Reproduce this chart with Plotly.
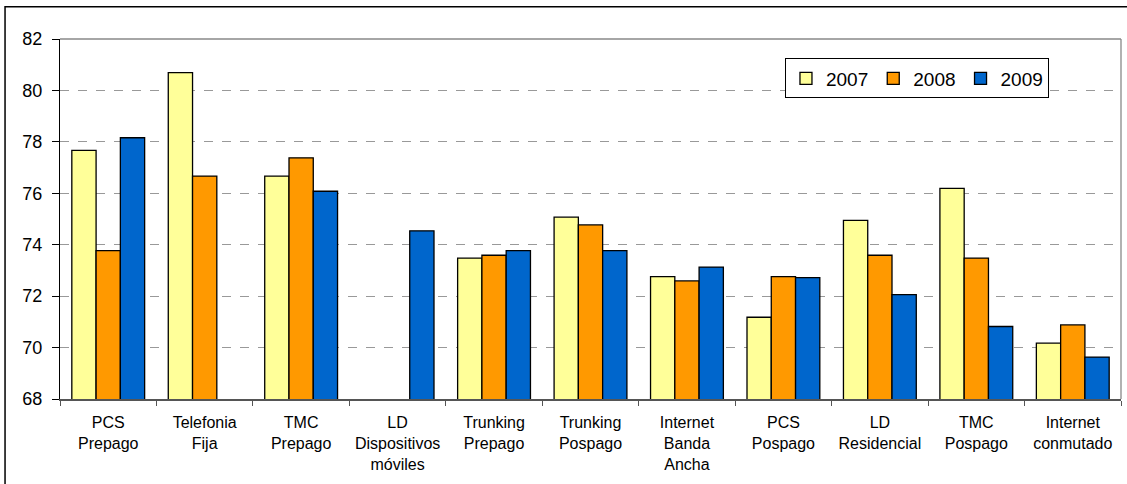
import plotly.graph_objects as go

categories = ["PCS<br>Prepago", "Telefonia<br>Fija", "TMC<br>Prepago", "LD<br>Dispositivos<br>móviles",
              "Trunking<br>Prepago", "Trunking<br>Pospago", "Internet<br>Banda<br>Ancha", "PCS<br>Pospago",
              "LD<br>Residencial", "TMC<br>Pospago", "Internet<br>conmutado"]
v2007 = [77.67, 80.69, 76.67, None, 73.48, 75.07, 72.76, 71.18, 74.95, 76.19, 70.17]
v2008 = [73.77, 76.67, 77.38, None, 73.59, 74.77, 72.59, 72.76, 73.59, 73.48, 70.88]
v2009 = [78.16, None, 76.08, 74.54, 73.77, 73.77, 73.13, 72.72, 72.06, 70.82, 69.63]
years = ["2007", "2008", "2009"]
colors = ["#FFFF99", "#FF9900", "#0066CC"]

fig = go.Figure()
for name, vals, col in zip(years, [v2007, v2008, v2009], colors):
    fig.add_trace(go.Bar(x=categories, y=vals, name=name,
                         marker=dict(color=col, line=dict(color="#000000", width=1.3))))

fig.update_layout(
    width=1127, height=484,
    margin=dict(l=60, r=6, t=39, b=85),
    paper_bgcolor="white", plot_bgcolor="white",
    barmode="group", bargap=0.245, bargroupgap=0,
    font=dict(family="Liberation Sans, Arial, sans-serif", color="#000000"),
    showlegend=True,
    legend=dict(orientation="h", x=0.8077, xanchor="center", y=0.946, yanchor="top",
                bordercolor="#000000", borderwidth=1, bgcolor="white",
                font=dict(size=19, family="Liberation Sans, Arial, sans-serif"),
                itemwidth=30, traceorder="normal", tracegroupgap=0),
    xaxis=dict(showline=True, linecolor="#555555", linewidth=1.5, ticks="outside",
               tickson="boundaries", ticklen=5, tickcolor="#555555",
               tickfont=dict(size=16), ticklabelstandoff=8, mirror=False, showgrid=False),
    yaxis=dict(range=[68, 82], dtick=2, showline=True, linecolor="#000000", linewidth=1.3,
               ticks="outside", ticklen=7, tickcolor="#000000",
               tickfont=dict(size=18), ticklabelstandoff=6, showgrid=True, gridcolor="#999999",
               griddash="dash", gridwidth=1, zeroline=False),
    shapes=[
        dict(type="line", xref="paper", yref="paper", x0=0, x1=1, y0=1, y1=1,
             line=dict(color="#888888", width=1.3)),
        dict(type="line", xref="paper", yref="paper", x0=1, x1=1, y0=0, y1=1,
             line=dict(color="#888888", width=1.3)),
        dict(type="rect", xref="paper", yref="paper", x0=-0.0518, x1=1.2, y0=-0.5, y1=1.0894,
             line=dict(color="#000000", width=1.5), fillcolor="rgba(0,0,0,0)", layer="above"),
    ],
)

fig.write_html("out.html")
